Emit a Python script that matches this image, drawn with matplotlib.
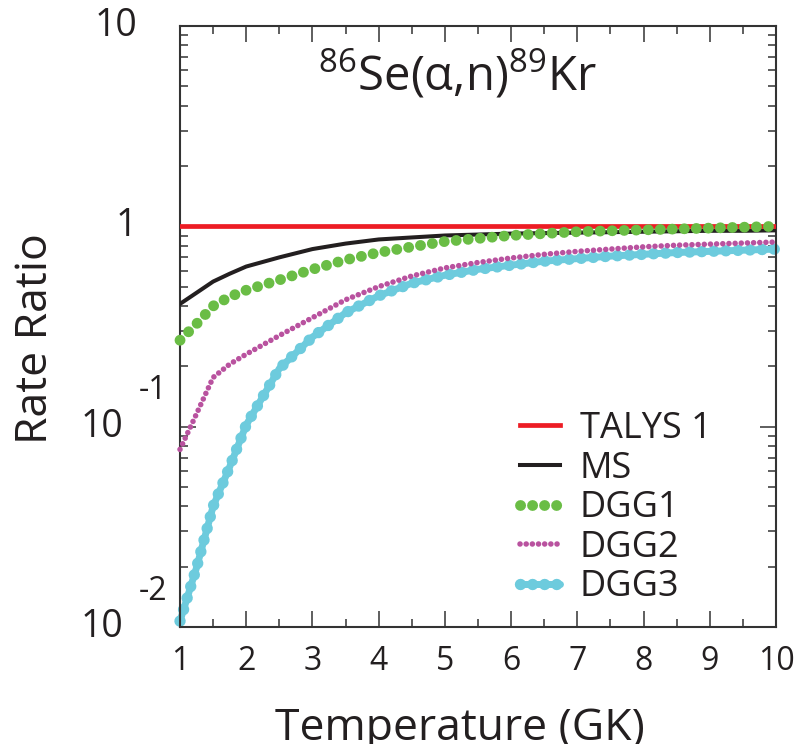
import numpy as np
import matplotlib
matplotlib.use('Agg')
import matplotlib.pyplot as plt
import matplotlib.transforms as mtransforms
from matplotlib.ticker import MultipleLocator, LogLocator, NullFormatter

plt.rcParams['font.family'] = ['Open Sans', 'DejaVu Sans']
plt.rcParams['mathtext.fontset'] = 'custom'
plt.rcParams['mathtext.rm'] = 'Open Sans'
plt.rcParams['mathtext.it'] = 'Open Sans:italic'
plt.rcParams['mathtext.bf'] = 'Open Sans:bold'

# --- data (rate ratio vs temperature) ---
temp = [1.0, 1.25, 1.5, 1.75, 2.0, 2.5, 3.0, 3.5, 4.0, 4.5, 5.0,
        5.5, 6.0, 6.5, 7.0, 7.5, 8.0, 8.5, 9.0, 9.5, 10.0]
talys1 = [1.0] * len(temp)
ms = [0.41, 0.466, 0.53, 0.58, 0.63, 0.70, 0.77, 0.82, 0.86, 0.88, 0.90,
      0.91, 0.92, 0.925, 0.93, 0.935, 0.94, 0.945, 0.95, 0.95, 0.955]
dgg1 = [0.27, 0.326, 0.40, 0.445, 0.48, 0.54, 0.61, 0.68, 0.74, 0.79, 0.84,
        0.87, 0.90, 0.92, 0.94, 0.95, 0.96, 0.97, 0.98, 0.99, 1.0]
dgg2 = [0.077, 0.116, 0.176, 0.205, 0.23, 0.285, 0.35, 0.43, 0.50, 0.565, 0.62,
        0.66, 0.695, 0.725, 0.75, 0.77, 0.79, 0.805, 0.815, 0.825, 0.835]
dgg3 = [0.0107, 0.0198, 0.040, 0.063, 0.102, 0.195, 0.28, 0.37, 0.45, 0.52, 0.57,
        0.61, 0.64, 0.67, 0.69, 0.71, 0.725, 0.74, 0.75, 0.76, 0.77]

ytick_vals = [10, 1, 0.1, 0.01]
ytick_base = ['10', '1', '10', '10']
ytick_exp = ['', '', '-1', '-2']

red = '#ed1c24'
black = '#231f20'
green = '#6abd45'
pink = '#b9529f'
cyan = '#6dcbdd'
txt = '#231f20'

fig = plt.figure(figsize=(8.01, 7.44), dpi=100)
ax = fig.add_axes([180 / 801, 117 / 744, 596 / 801, 601 / 744])
ax.set_yscale('log')
ax.set_xlim(1, 10)
ax.set_ylim(0.01, 10)

# DGG3: thick line + big dots
l3a, = ax.plot(temp, dgg3, color=cyan, lw=5.0, solid_capstyle='round',
               zorder=2, clip_on=False)
l3b, = ax.plot(temp, dgg3, color=cyan, lw=8.2, linestyle=(0, (0.01, 1.05)),
               dash_capstyle='round', zorder=2, clip_on=False)
l2, = ax.plot(temp, dgg2, color=pink, lw=4.0, linestyle=(0, (0.01, 1.1)),
              dash_capstyle='round', zorder=3, clip_on=False)
lms, = ax.plot(temp, ms, color=black, lw=2.9, zorder=4)
lt, = ax.plot(temp, talys1, color=red, lw=3.4, zorder=4)
l1, = ax.plot(temp, dgg1, color=green, lw=7.8, linestyle=(0, (0.01, 1.1)),
              dash_capstyle='round', zorder=5, clip_on=False)

# ticks
for s in ax.spines.values():
    s.set_linewidth(1.5)
    s.set_color('#333333')
ax.xaxis.set_major_locator(MultipleLocator(1))
ax.xaxis.set_minor_locator(MultipleLocator(0.5))
ax.yaxis.set_major_locator(LogLocator(base=10, numticks=10))
ax.yaxis.set_minor_locator(LogLocator(base=10, subs=np.arange(2, 10), numticks=20))
ax.yaxis.set_major_formatter(NullFormatter())
ax.yaxis.set_minor_formatter(NullFormatter())
ax.tick_params(which='both', direction='in', top=True, right=True,
               color='#333333', width=1.1)
ax.tick_params(which='major', length=11.5)
ax.tick_params(which='minor', length=5.8)
ax.tick_params(axis='x', which='major', labelsize=23, pad=13, labelcolor=txt)
ax.set_xticks(range(1, 11))
ax.set_xticklabels([str(i) for i in range(1, 11)])

# y tick labels drawn as base + raised exponent
ytrans = ax.get_yaxis_transform()
for v, b, e in zip(ytick_vals, ytick_base, ytick_exp):
    if e:
        ax.text(-0.095, v, b, transform=ytrans, ha='right', va='center',
                fontsize=27, color=txt)
        etrans = mtransforms.offset_copy(ytrans, fig=fig, x=0, y=36, units='dots')
        ax.text(-0.022, v, e, transform=etrans, ha='right', va='center',
                fontsize=23, color=txt)
    else:
        ax.text(-0.072, v, b, transform=ytrans, ha='right', va='center',
                fontsize=27, color=txt)

ax.set_xlabel('Temperature (GK)', fontsize=32, color=txt, va='baseline')
ax.xaxis.set_label_coords(0.47, -0.188)
ax.set_ylabel('Rate Ratio', fontsize=32, color=txt)
ax.yaxis.set_label_coords(-0.205, 0.479)

ax.text(0.465, 0.8935, r'$^{86}$Se(α,n)$^{89}$Kr', transform=ax.transAxes,
        ha='center', va='baseline', fontsize=34, color=txt)

leg = ax.legend([lt, lms, l1, l2, (l3a, l3b)],
                ['TALYS 1', 'MS', 'DGG1', 'DGG2', 'DGG3'],
                loc='upper left', bbox_to_anchor=(520 / 801, (744 - 411) / 744),
                bbox_transform=fig.transFigure, frameon=False, borderpad=0,
                borderaxespad=0, fontsize=26, handlelength=1.1,
                handletextpad=0.55, labelspacing=0.1)
for t in leg.get_texts():
    t.set_color(txt)

fig.savefig('out.png', dpi=100)
